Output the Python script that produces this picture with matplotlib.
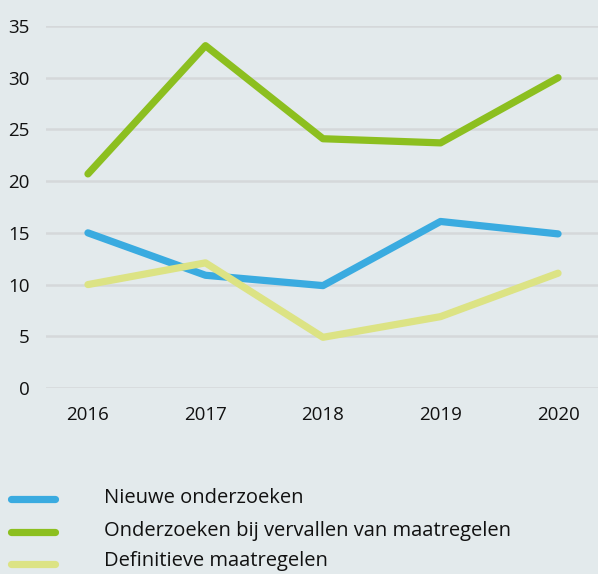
import matplotlib
matplotlib.use("Agg")
import matplotlib.pyplot as plt
from matplotlib.lines import Line2D

years = [2016, 2017, 2018, 2019, 2020]
nieuwe = [15.0, 10.9, 9.9, 16.1, 14.9]
vervallen = [20.7, 33.1, 24.1, 23.7, 30.0]
definitief = [10.0, 12.1, 4.9, 6.9, 11.1]
series_names = ["Nieuwe onderzoeken", "Onderzoeken bij vervallen van maatregelen", "Definitieve maatregelen"]
colors = ["#3aabe0", "#8cbf1f", "#dce384"]
yticks = [0, 5, 10, 15, 20, 25, 30, 35]

plt.rcParams['font.family'] = ['Open Sans', 'DejaVu Sans']
bg = "#e3eaec"
fig = plt.figure(figsize=(5.98, 5.74), dpi=100, facecolor=bg)
ax = fig.add_axes([46/598, 1-388/574, 552/598, 362/574], facecolor=bg)

for vals, c in zip([nieuwe, vervallen, definitief], colors):
    ax.plot(years, vals, color=c, lw=5.2, solid_capstyle='round', solid_joinstyle='round', clip_on=False, zorder=3)

ax.set_xlim(2016-0.357, 2020+0.34)
ax.set_ylim(0, 35)
ax.set_yticks(yticks)
ax.set_xticks(years)
ax.set_xticklabels([str(y) for y in years])
for s in ax.spines.values():
    s.set_visible(False)
ax.grid(axis='y', color='#d5d8da', lw=1.8)
ax.set_axisbelow(True)
ax.tick_params(axis='both', length=0, labelsize=13.5, colors='#111111')
ax.tick_params(axis='y', pad=12)
ax.tick_params(axis='x', pad=13)

legend_y = [499, 532, 564]
text_y = [498, 531, 561]
for name, c, yy, ty in zip(series_names, colors, legend_y, text_y):
    fy = 1 - yy/574
    fig.add_artist(Line2D([11/598, 55/598], [fy, fy], color=c, lw=5.2, solid_capstyle='round'))
    fig.text(104/598, 1 - ty/574, name, fontsize=14.5, va='center', ha='left', color='#111111')

fig.savefig("out.png", dpi=100, facecolor=bg)
